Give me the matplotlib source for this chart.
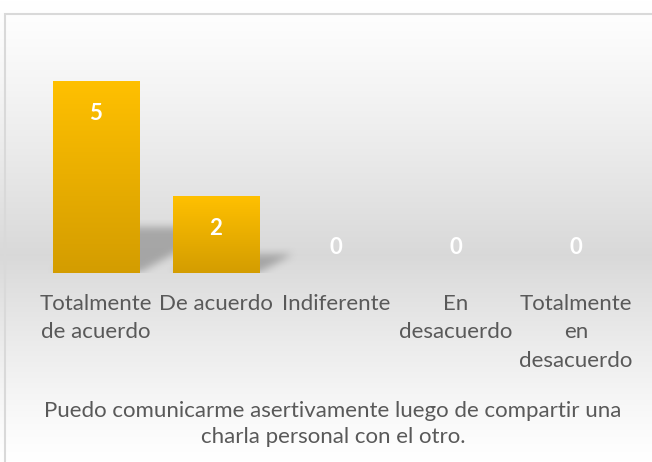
import numpy as np
import matplotlib
matplotlib.use("Agg")
import matplotlib.pyplot as plt
from matplotlib.patches import Rectangle

plt.rcParams["font.family"] = ["Lato", "DejaVu Sans"]

categorias = ["Totalmente\nde acuerdo", "De acuerdo", "Indiferente",
              "En\ndesacuerdo", "Totalmente\nen\ndesacuerdo"]
valores = [5, 2, 0, 0, 0]
titulo = "Puedo comunicarme asertivamente luego de compartir una\ncharla personal con el otro."

W, H = 652, 462
fig = plt.figure(figsize=(W / 100, H / 100), dpi=100)

# hintergrund mit verlauf: weiss oben, grau in der mitte, weiss unten
bg = fig.add_axes([0, 0, 1, 1], zorder=0)
ys = np.linspace(0, 1, 400)
mitte = 1 - 255 / H
stufe = np.where(ys > mitte, (1 - ys) / (1 - mitte), ys / mitte)
stufe = np.clip(stufe, 0, 1) ** 1.2
grau = 1.0 - 0.15 * stufe
img = np.stack([grau, grau, grau], axis=-1)[:, None, :].repeat(2, axis=1)
bg.imshow(img, extent=[0, 1, 0, 1], origin="lower", aspect="auto")
bg.add_patch(Rectangle((5 / W, -0.1), 1.2, 1 - 14 / H + 0.1, fill=False,
                       edgecolor="#d9d9d9", linewidth=1.5, transform=bg.transAxes))
bg.set_xlim(0, 1)
bg.set_ylim(0, 1)
bg.axis("off")

ax = fig.add_axes([36 / W, 189 / H, 600 / W, 230.4 / H], zorder=1)
ax.set_xlim(-0.5, 4.5)
ax.set_ylim(0, 6)
ax.patch.set_alpha(0)
ax.axis("off")

x = np.arange(len(valores))
breite = 0.717

# schatten
gx = np.linspace(-0.5, 4.5, 600)
gy = np.linspace(0, 6, 230)
GX, GY = np.meshgrid(gx, gy)
maske = np.zeros_like(GX)
for xi, v in zip(x, valores):
    if v <= 0:
        continue
    hoehe = v * 0.24
    dx = v * 0.14
    t = np.clip(GY / hoehe, 0, None)
    links = xi - breite / 2 + t * dx * 0.6
    rechts = xi + breite / 2 + t * dx
    drin = (GY <= hoehe) & (GX >= links) & (GX <= rechts)
    maske = np.maximum(maske, drin * 1.0)
# weichzeichnen
k = 9
kern = np.ones(k) / k
for _ in range(2):
    maske = np.apply_along_axis(lambda r: np.convolve(r, kern, mode="same"), 1, maske)
    maske = np.apply_along_axis(lambda c: np.convolve(c, kern, mode="same"), 0, maske)
schatten = np.zeros(maske.shape + (4,))
schatten[..., :3] = 0.45
schatten[..., 3] = maske * 0.5
ax.imshow(schatten, extent=[-0.5, 4.5, 0, 6], origin="lower", aspect="auto", zorder=1)

# balken mit verlauf
verlauf = np.linspace(0, 1, 100)[:, None, None]
gold_oben = np.array([1.0, 0.753, 0.0])
gold_unten = np.array([0.83, 0.615, 0.0])
farbe = (gold_unten + (gold_oben - gold_unten) * verlauf).repeat(2, axis=1)
for xi, v in zip(x, valores):
    if v > 0:
        ax.imshow(farbe, extent=[xi - breite / 2, xi + breite / 2, 0, v],
                  origin="lower", aspect="auto", zorder=2)
        ax.annotate(str(v), (xi, v), xytext=(0, -23.5), textcoords="offset points",
                    ha="center", va="center", color="white", fontsize=16,
                    fontweight="bold", zorder=3)
    else:
        ax.annotate(str(v), (xi, 0), xytext=(0, 18.5), textcoords="offset points",
                    ha="center", va="center", color="white", fontsize=16,
                    fontweight="bold", zorder=3)

for xi, kat in zip(x, categorias):
    ax.annotate(kat, (xi, 0), xytext=(0, -15), textcoords="offset points",
                ha="center", va="top", color="#595959", fontsize=16,
                linespacing=1.53)

fig.text(333 / W, 1 - 401 / H, titulo, ha="center", va="top", color="#595959",
         fontsize=16, linespacing=1.35)

fig.savefig("out.png", dpi=100)
